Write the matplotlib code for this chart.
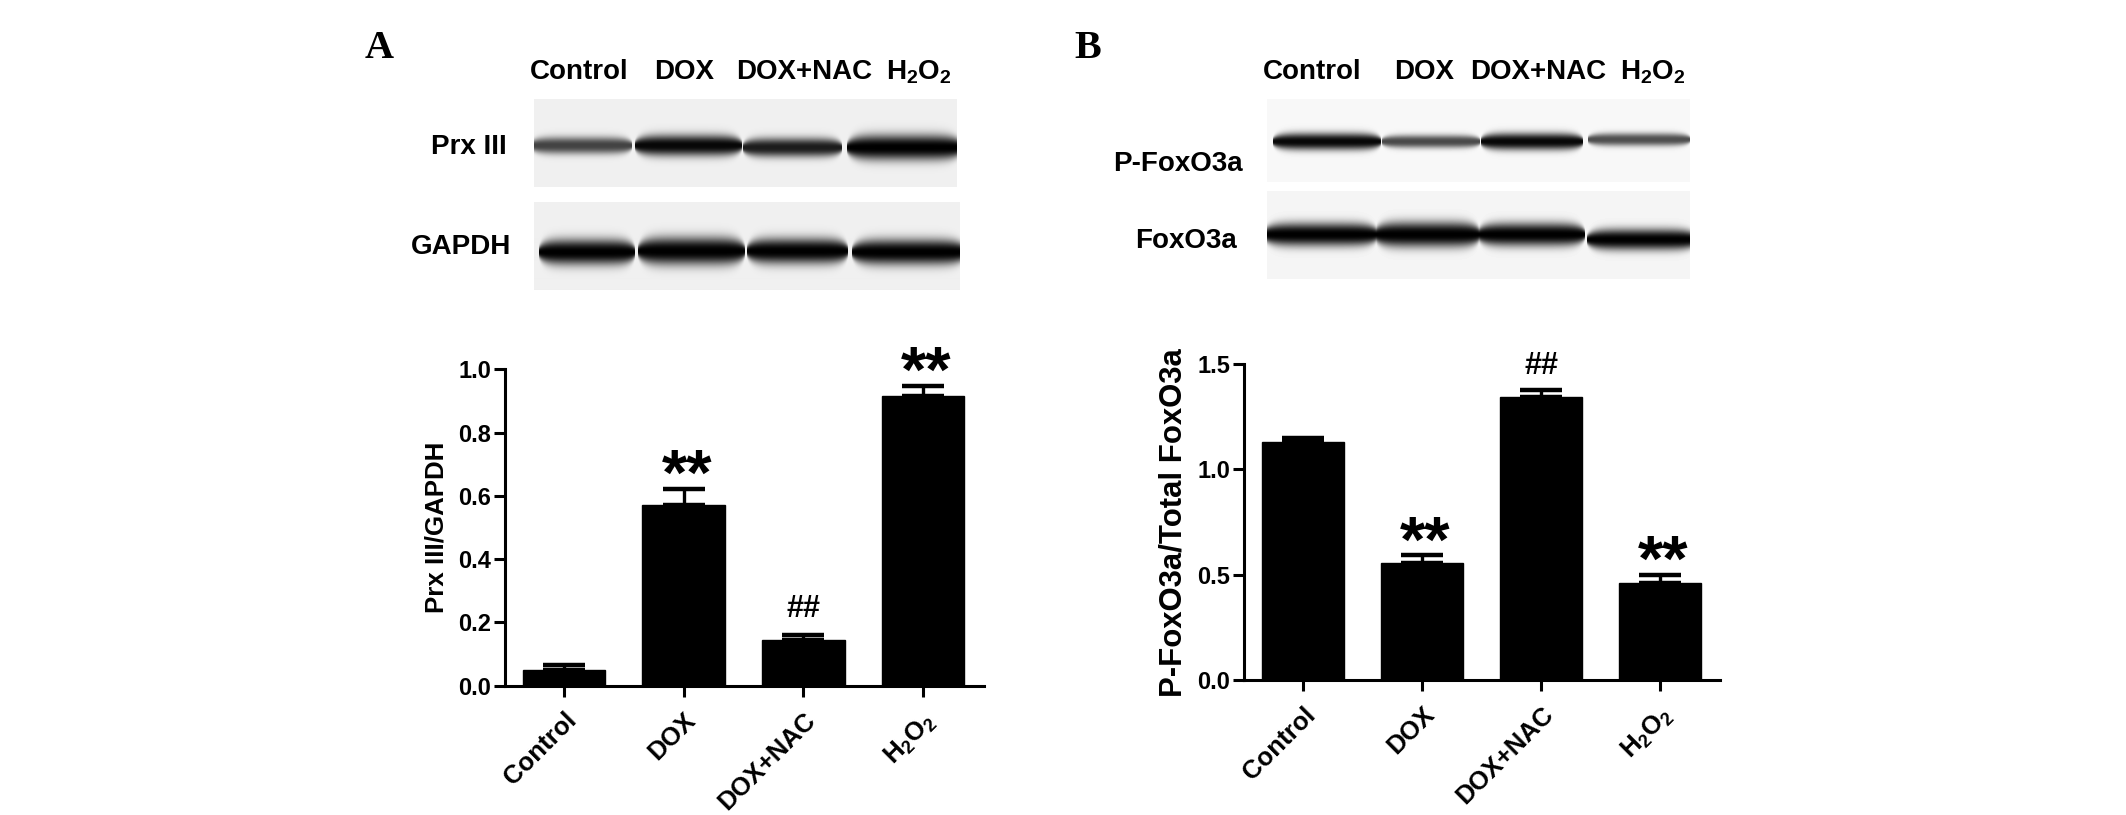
import numpy as np
import matplotlib
matplotlib.use('Agg')
import matplotlib.pyplot as plt

W, H = 2126, 815
plt.rcParams['font.family'] = ['Liberation Sans', 'DejaVu Sans']
plt.rcParams['font.weight'] = 'bold'
plt.rcParams['mathtext.fontset'] = 'custom'
plt.rcParams['mathtext.bf'] = 'Liberation Sans:bold'
plt.rcParams['mathtext.rm'] = 'Liberation Sans:bold'

groups = ['Control', 'DOX', 'DOX+NAC', r'$\mathbf{H_2O_2}$']

# values
prx_vals = [0.05, 0.57, 0.145, 0.915]
prx_err = [0.016, 0.053, 0.015, 0.033]
prx_marks = ['', '**', '##', '**']

foxo_vals = [1.128, 0.555, 1.345, 0.461]
foxo_err = [0.019, 0.037, 0.033, 0.040]
foxo_marks = ['', '**', '##', '**']

# blot band darkness per lane
prx_bands = [0.72, 0.97, 0.88, 1.0]
gapdh_bands = [1.0, 1.0, 1.0, 1.0]
pfoxo_bands = [0.97, 0.7, 0.97, 0.68]
foxo_bands = [1.0, 1.0, 1.0, 1.0]


def px_axes(x0, y0, x1, y1):
    # axes from pixel box, y counted from the top
    return fig.add_axes([x0 / W, 1 - y1 / H, (x1 - x0) / W, (y1 - y0) / H])


def put(x, y, s, **kw):
    fig.text(x / W, 1 - y / H, s, **kw)


def blot(box, lanes, centres, halves, darkness, bg):
    x0, y0, x1, y1 = box
    xx, yy = np.meshgrid(np.arange(x0, x1), np.arange(y0, y1))
    dark = np.zeros(xx.shape)
    for (a, b), yc, h, d in zip(lanes, centres, halves, darkness):
        mid, half = (a + b) / 2, (b - a) / 2
        taper = np.clip(1 - ((xx - mid) / half) ** 6, 0, 1) ** 0.5
        band = np.exp(-(np.abs(yy - yc) / (h * taper + 1.5)) ** 2.4)
        dark = np.maximum(dark, d * band * (taper > 0))
    ax = px_axes(x0, y0, x1, y1)
    ax.imshow(bg * (1 - dark), cmap='gray', vmin=0, vmax=1, aspect='auto',
              interpolation='bilinear')
    ax.axis('off')


def bars(box, xlim, ylim, ticks, vals, errs, marks, ylabel, label_size, label_x, star_off, hash_off):
    ax = px_axes(*box)
    pos = np.arange(len(vals))
    ax.bar(pos, vals, width=0.69, color='black', edgecolor='black', linewidth=1)
    ax.errorbar(pos, vals, yerr=[np.zeros(len(errs)), errs], fmt='none', ecolor='black',
                elinewidth=2.4, capsize=15, capthick=3.2)
    ax.set_xlim(*xlim)
    ax.set_ylim(*ylim)
    ax.set_yticks(ticks)
    ax.set_yticklabels([f'{t:.1f}' for t in ticks], fontsize=17, fontweight='bold')
    ax.set_xticks(pos)
    ax.set_xticklabels(groups, rotation=45, ha='right', rotation_mode='anchor', fontsize=18.5, fontweight='bold')
    ax.tick_params(axis='y', length=8, width=2.2, pad=2)
    ax.tick_params(axis='x', length=8, width=2.2, pad=8)
    ax.spines['top'].set_visible(False)
    ax.spines['right'].set_visible(False)
    ax.spines['left'].set_linewidth(2.2)
    ax.spines['bottom'].set_linewidth(2.2)
    ax.patch.set_alpha(0)
    for p, v, e, m in zip(pos, vals, errs, marks):
        if m == '**':
            ax.annotate(m, (p, v + e), xytext=(3, star_off), textcoords='offset pixels',
                        ha='center', va='center', fontsize=47, fontweight='bold')
        elif m == '##':
            ax.annotate(m, (p, v + e), xytext=(0, hash_off), textcoords='offset pixels',
                        ha='center', va='center', fontsize=22, fontweight='bold')
    put(label_x, (box[1] + box[3]) / 2, ylabel, rotation=90, ha='center', va='center',
        fontsize=label_size, fontweight='bold')
    return ax


fig = plt.figure(figsize=(W / 100, H / 100), dpi=100, facecolor='white')

# panel A blots
blot((534, 99, 957, 187), [(530, 632), (634, 742), (742, 842), (846, 962)],
     [145, 145, 147, 147], [7, 9, 8, 11], prx_bands, 0.94)
blot((534, 202, 960, 290), [(538, 635), (637, 745), (746, 848), (851, 966)],
     [252, 251, 251, 252], [11, 12, 11, 11], gapdh_bands, 0.94)

# panel B blots
blot((1267, 99, 1690, 182), [(1272, 1381), (1381, 1480), (1480, 1583), (1587, 1690)],
     [141, 141, 141, 139], [7, 5, 7, 5], pfoxo_bands, 0.97)
blot((1267, 191, 1690, 279), [(1263, 1378), (1374, 1480), (1477, 1585), (1586, 1697)],
     [234, 234, 234, 239], [10, 11, 10, 9], foxo_bands, 0.96)

bars((505, 369.3, 984, 685.7), (-0.493, 3.51), (0, 1.0), [0, 0.2, 0.4, 0.6, 0.8, 1.0],
     prx_vals, prx_err, prx_marks, 'Prx III/GAPDH', 18.6, 436, 11, 26)
bars((1244, 364, 1720, 680.3), (-0.496, 3.504), (0, 1.5), [0, 0.5, 1.0, 1.5],
     foxo_vals, foxo_err, foxo_marks, 'P-FoxO3a/Total FoxO3a', 22.4, 1174, 11, 24)

# lane headers and row labels
for x, s in zip([579, 684, 804, 919], groups):
    put(x, 72, s, ha='center', va='center', fontsize=20)
for x, s in zip([1312, 1424, 1538, 1653], groups):
    put(x, 72, s, ha='center', va='center', fontsize=20)
put(507, 147, 'Prx III', ha='right', va='center', fontsize=20)
put(511, 247, 'GAPDH', ha='right', va='center', fontsize=20)
put(1243, 164, 'P-FoxO3a', ha='right', va='center', fontsize=20)
put(1237, 241, 'FoxO3a', ha='right', va='center', fontsize=20)

put(379, 48, 'A', family='Liberation Serif', ha='center', va='center', fontsize=29)
put(1088, 48, 'B', family='Liberation Serif', ha='center', va='center', fontsize=29)

fig.savefig('out.png', dpi=100)
